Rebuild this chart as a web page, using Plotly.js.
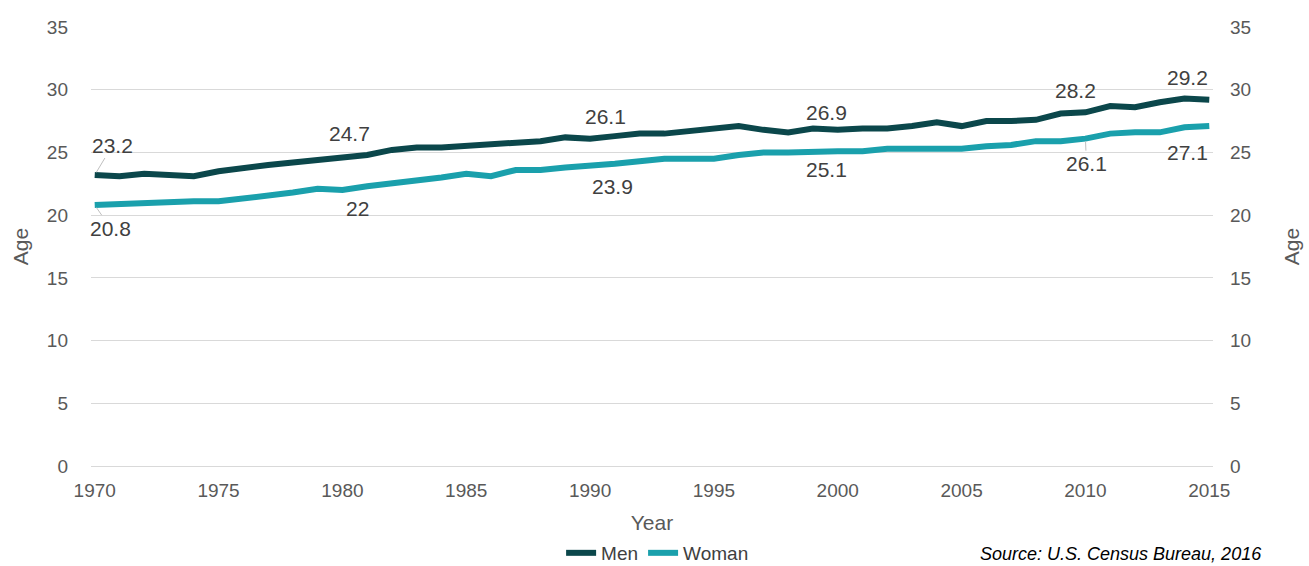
<!DOCTYPE html>
<html>
<head>
<meta charset="utf-8">
<script src="https://cdn.plot.ly/plotly-3.0.1.min.js"></script>
<style>
html,body{margin:0;padding:0;background:#fff;}
#chart{width:1309px;height:566px;}
</style>
</head>
<body>
<div id="chart"></div>
<script>
var years = [1970,1971,1972,1973,1974,1975,1976,1977,1978,1979,1980,1981,1982,1983,1984,1985,1986,1987,1988,1989,1990,1991,1992,1993,1994,1995,1996,1997,1998,1999,2000,2001,2002,2003,2004,2005,2006,2007,2008,2009,2010,2011,2012,2013,2014,2015];
var men = [23.2,23.1,23.3,23.2,23.1,23.5,23.8,24.0,24.2,24.4,24.7,24.8,25.2,25.4,25.4,25.5,25.7,25.8,25.9,26.2,26.1,26.3,26.5,26.5,26.7,26.9,27.1,26.8,26.6,26.9,26.8,26.9,26.9,27.1,27.4,27.1,27.5,27.5,27.6,28.1,28.2,28.7,28.6,29.0,29.3,29.2];
var women = [20.8,20.9,20.9,21.0,21.1,21.1,21.3,21.6,21.8,22.1,22.0,22.3,22.5,22.8,23.0,23.3,23.1,23.6,23.6,23.8,23.9,24.1,24.3,24.5,24.5,24.5,24.8,25.0,25.0,25.1,25.1,25.1,25.3,25.3,25.3,25.3,25.5,25.6,25.9,25.9,26.1,26.5,26.6,26.6,27.0,27.1];
var seriesNames = ["Men", "Woman"];
var menLabelYears = [1970,1980,1990,1999,2010,2015];
var womenLabelYears = [1970,1980,1990,1999,2010,2015];
var xTicks = [1970,1975,1980,1985,1990,1995,2000,2005,2010,2015];
var yTicks = [0,5,10,15,20,25,30,35];
var sourceText = "Source: U.S. Census Bureau, 2016";

var menColor = "#0b474b";
var womenColor = "#1aa0ac";
var txtColor = "#404040";
var axColor = "#595959";
var FF = "Liberation Sans, Arial, sans-serif";

var traces = [
  {x: years, y: men, name: seriesNames[0], type: "scatter", mode: "lines",
   line: {color: menColor, width: 6}, hoverinfo: "x+y"},
  {x: years, y: women, name: seriesNames[1], type: "scatter", mode: "lines",
   line: {color: womenColor, width: 6}, hoverinfo: "x+y"},
  {x: years, y: men, yaxis: "y2", type: "scatter", mode: "lines",
   line: {color: "rgba(0,0,0,0)", width: 0}, showlegend: false, hoverinfo: "skip"}
];

// label offsets in pixels (style only): [dx, dy, leaderLine]
var menOff = [[18,-30,true],[7,-23,false],[15,-22,false],[14,-16,false],[-10,-22,false],[-22,-22,false]];
var womenOff = [[16,23,true],[15,18,false],[22,20,false],[14,18,false],[1,25,true],[-22,26,false]];

var annotations = [];
function addLabels(labelYears, vals, offs) {
  labelYears.forEach(function(yr, i) {
    var idx = years.indexOf(yr);
    var o = offs[i];
    annotations.push({
      x: yr, y: vals[idx], xref: "x", yref: "y",
      text: String(vals[idx]),
      showarrow: true, arrowhead: 0, arrowwidth: 1,
      arrowcolor: o[2] ? "#bfbfbf" : "rgba(0,0,0,0)",
      ax: o[0], ay: o[1], axref: "pixel", ayref: "pixel",
      standoff: 3,
      font: {family: FF, size: 21, color: txtColor}
    });
  });
}
addLabels(menLabelYears, men, menOff);
addLabels(womenLabelYears, women, womenOff);

annotations.push({
  text: sourceText, xref: "paper", yref: "paper",
  x: 0.7906, y: -0.2, xanchor: "left", yanchor: "middle", showarrow: false,
  font: {family: FF, size: 18, color: "#000", style: "italic"}
});

var axisFont = {family: FF, size: 19, color: axColor};
var titleFont = {family: FF, size: 21, color: axColor};

var layout = {
  width: 1309, height: 566,
  margin: {l: 91, r: 96, t: 27, b: 100, autoexpand: false},
  paper_bgcolor: "#fff", plot_bgcolor: "#fff",
  showlegend: true,
  legend: {orientation: "h", x: 0.505, xanchor: "center", xref: "paper",
           y: 0.023, yanchor: "middle", yref: "container",
           font: {family: FF, size: 19, color: txtColor},
           itemwidth: 30, tracegroupgap: 0},
  xaxis: {
    range: [1969.85, 2015.15], tickvals: xTicks, ticktext: xTicks.map(String),
    showgrid: false, zeroline: false, showline: false, ticks: "", automargin: false,
    tickfont: axisFont, ticklabelstandoff: 11,
    title: {text: "Year", font: titleFont, standoff: 20}
  },
  yaxis: {
    range: [0, 35], tickvals: yTicks, showgrid: true, gridcolor: "#d9d9d9", gridwidth: 1,
    zeroline: true, zerolinecolor: "#d9d9d9", zerolinewidth: 1, showline: false, ticks: "",
    automargin: false, tickfont: axisFont, ticklabelstandoff: 22,
    title: {text: "Age", font: titleFont, standoff: 12}
  },
  yaxis2: {
    range: [0, 35], tickvals: yTicks, overlaying: "y", side: "right", showgrid: false,
    zeroline: false, showline: false, ticks: "", automargin: false,
    tickfont: axisFont, ticklabelstandoff: 16,
    title: {text: "Age", font: titleFont, standoff: 34}
  },
  annotations: annotations,
  hovermode: "closest"
};

Plotly.newPlot("chart", traces, layout, {displayModeBar: false});
</script>
</body>
</html>
